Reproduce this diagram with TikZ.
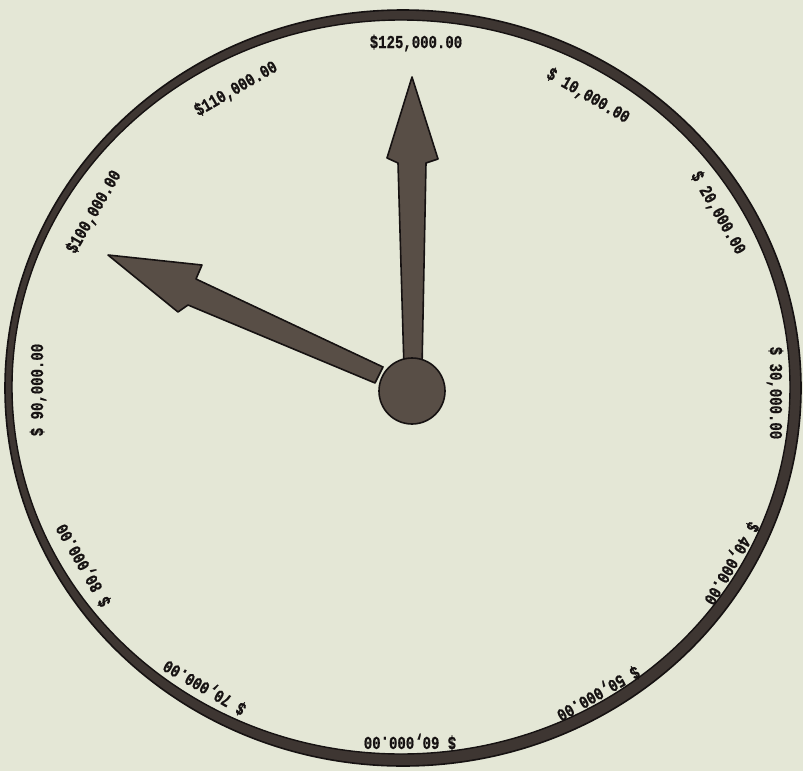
\documentclass[tikz,border=0pt]{standalone}
\usepackage{fontspec}
\usepackage{graphicx}
\setmonofont[BoldFeatures={FakeBold=0.8}]{Liberation Mono}
\definecolor{paper}{RGB}{228,231,214}
\definecolor{handfill}{RGB}{88,78,70}
\definecolor{ringfill}{RGB}{62,54,50}
\definecolor{inkline}{RGB}{22,18,18}
\tikzset{
  lbl/.style={inner sep=0pt, text=inkline, font=\ttfamily\bfseries\fontsize{14}{14}\selectfont},
  hand/.style={fill=handfill, draw=inkline, line width=1.6pt, line join=round},
}
\newcommand{\tallt}[1]{\scalebox{1}[1.3]{#1}}
\begin{document}
\begin{tikzpicture}[x=1pt,y=-1pt]
\useasboundingbox (0,0) rectangle (803,771);
\fill[paper] (0,0) rectangle (803,771);
% dial ring
\fill[ringfill, even odd rule] (403,388) ellipse [x radius=398pt, y radius=378pt]
  (401,387) ellipse [x radius=389pt, y radius=367pt];
\draw[inkline, line width=1.6pt] (403,388) ellipse [x radius=398pt, y radius=378pt];
\draw[inkline, line width=1.4pt] (401,387) ellipse [x radius=389pt, y radius=367pt];
% labels
\node[lbl] (l125) at (416,43) {\tallt{\$125,000.00}};
\node[lbl, rotate=-30] (l10) at (588,96) {\tallt{\$ 10,000.00}};
\node[lbl, rotate=-60] (l20) at (718,213) {\tallt{\$ 20,000.00}};
\node[lbl, rotate=-90] (l30) at (775,393) {\tallt{\$ 30,000.00}};
\node[lbl, rotate=-120] (l40) at (731,563) {\tallt{\$ 40,000.00}};
\node[lbl, rotate=-150] (l50) at (598,693) {\tallt{\$ 50,000.00}};
\node[lbl, rotate=180] (l60) at (410,742) {\tallt{\$ 60,000.00}};
\node[lbl, rotate=150] (l70) at (205,687) {\tallt{\$ 70,000.00}};
\node[lbl, rotate=120] (l80) at (84,565) {\tallt{\$ 80,000.00}};
\node[lbl, rotate=90] (l90) at (38,390) {\tallt{\$ 90,000.00}};
\node[lbl, rotate=60] (l100) at (94,212) {\tallt{\$100,000.00}};
\node[lbl, rotate=30] (l110) at (236,89) {\tallt{\$110,000.00}};
% minute hand
\draw[hand] (412,77) -- (438,159) -- (426,163) -- (422,368) -- (404,368)
  -- (398,163) -- (387,158) -- cycle;
% hour hand
\draw[hand] (108,255) -- (202,265) -- (196,279) -- (383,367) -- (375,383)
  -- (188,305) -- (178,312) -- cycle;
% hub
\node[circle, minimum size=66pt, inner sep=0pt, fill=handfill, draw=inkline, line width=1.6pt] (hub) at (412,391) {};
\end{tikzpicture}
\end{document}
